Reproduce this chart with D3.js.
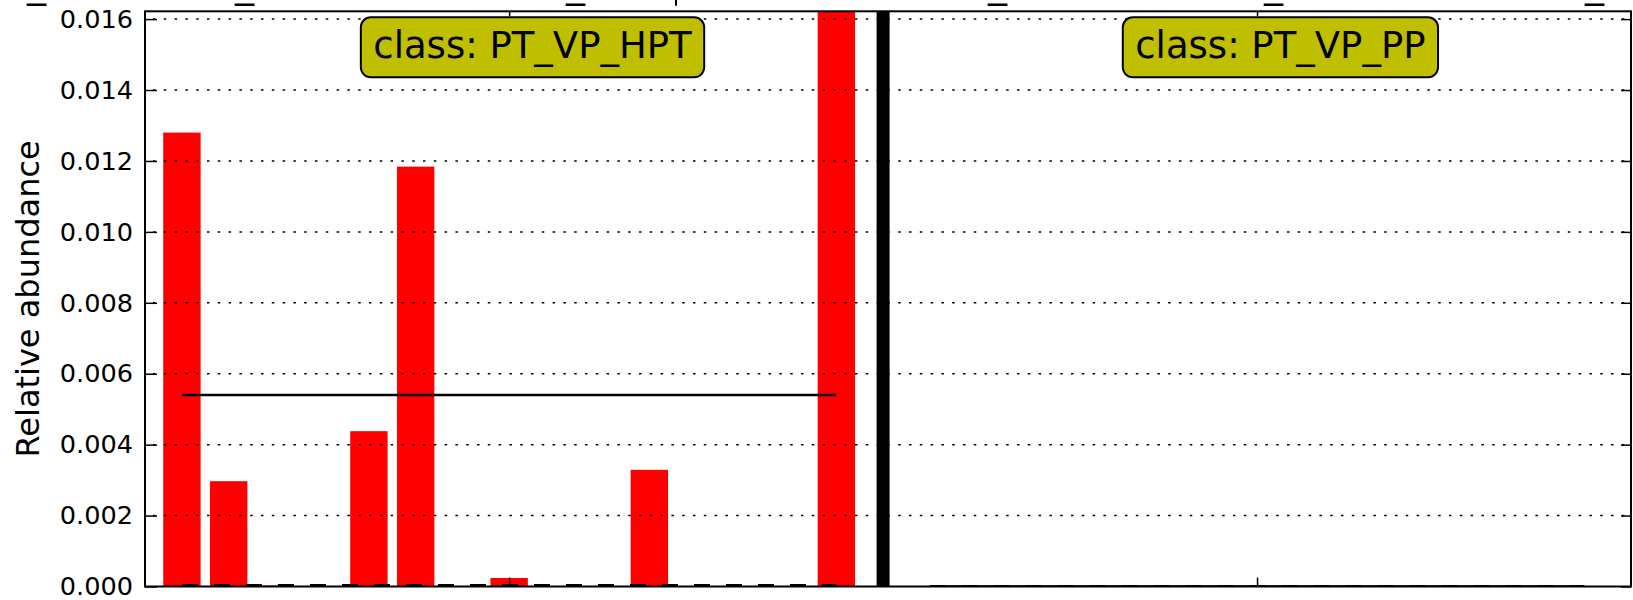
<!DOCTYPE html>
<html>
<head>
<meta charset="utf-8">
<script src="https://cdn.jsdelivr.net/npm/d3@7"></script>
<style>
  body { margin: 0; background: #fff; }
  svg { display: block; font-family: "DejaVu Sans", sans-serif; }
</style>
</head>
<body>
<div id="main-chart"></div>
<script>
// values
const classNames = ["PT_VP_HPT", "PT_VP_PP"];
const hptValues = [0.0128, 0.00297, 0.00003, 0, 0.00438, 0.01184, 0, 0.00024, 0, 0, 0.00329, 0, 0, 0, 0.0454];
const ppValues = [0, 0, 0, 0, 0, 0, 0, 0, 0, 0, 0, 0, 0, 0, 0];
const yTicks = [0, 0.002, 0.004, 0.006, 0.008, 0.010, 0.012, 0.014, 0.016];

// bits of a cut-off title at the very top
const fragmentX = [27, 235, 566, 988, 1264, 1585];

const width = 1633, height = 600;
const pLeft = 145, pRight = 1631, pTop = 11.3, pBottom = 586.5;

const svg = d3.select("#main-chart")
    .append("svg")
    .attr("width", width)
    .attr("height", height);

const x = d3.scaleLinear().domain([-0.79, 31]).range([pLeft, pRight]);
const y = d3.scaleLinear().domain([0, 0.01622]).range([pBottom, pTop]);

const groups = [
    { name: classNames[0], values: hptValues, start: 0 },
    { name: classNames[1], values: ppValues, start: 16 }
];
const divider = 15;

svg.append("defs").append("clipPath").attr("id", "plot-clip")
    .append("rect")
    .attr("x", pLeft).attr("y", pTop)
    .attr("width", pRight - pLeft).attr("height", pBottom - pTop);

const plot = svg.append("g").attr("clip-path", "url(#plot-clip)");

// bars
groups.forEach(g => {
    plot.selectAll(null)
        .data(g.values)
        .enter()
        .append("rect")
        .attr("x", (d, i) => x(g.start + i - 0.4))
        .attr("width", x(0.8) - x(0))
        .attr("y", d => y(d))
        .attr("height", d => y(0) - y(d))
        .attr("fill", "#ff0000");
});

// dotted grid (drawn over the bars)
plot.selectAll(".grid")
    .data(yTicks.slice(1))
    .enter()
    .append("line")
    .attr("class", "grid")
    .attr("x1", pLeft).attr("x2", pRight)
    .attr("y1", d => y(d)).attr("y2", d => y(d))
    .attr("stroke", "#000")
    .attr("stroke-width", 1.5)
    .attr("stroke-dasharray", "2.5,8.3")
    .attr("stroke-dashoffset", -8);

// mean (solid) and median (dashed) per class
groups.forEach(g => {
    const x0 = x(g.start), x1 = x(g.start + g.values.length - 1);
    const mean = d3.mean(g.values), median = d3.median(g.values);
    plot.append("line")
        .attr("x1", x0).attr("x2", x1)
        .attr("y1", y(mean)).attr("y2", y(mean))
        .attr("stroke", "#000").attr("stroke-width", 2.5);
    plot.append("line")
        .attr("x1", x0).attr("x2", x1)
        .attr("y1", y(median)).attr("y2", y(median))
        .attr("stroke", "#000").attr("stroke-width", 3)
        .attr("stroke-dasharray", "16,16");
});

// class divider
plot.append("line")
    .attr("x1", x(divider)).attr("x2", x(divider))
    .attr("y1", pTop).attr("y2", pBottom)
    .attr("stroke", "#000")
    .attr("stroke-width", 13);

// axes, ticks pointing inward
const yAxis = svg.append("g")
    .attr("transform", `translate(${pLeft},0)`)
    .call(d3.axisLeft(y).tickValues(yTicks).tickFormat(d3.format(".3f"))
        .tickSizeInner(-12).tickSizeOuter(0).tickPadding(12));
yAxis.select(".domain").remove();
yAxis.selectAll("text")
    .attr("font-size", 25.6)
    .attr("font-family", "DejaVu Sans")
    .attr("fill", "#000");

const yAxisR = svg.append("g")
    .attr("transform", `translate(${pRight},0)`)
    .call(d3.axisRight(y).tickValues(yTicks).tickFormat("")
        .tickSizeInner(-10).tickSizeOuter(0));
yAxisR.select(".domain").remove();

const classTicks = [7, 23];
const xAxisB = svg.append("g")
    .attr("transform", `translate(0,${pBottom})`)
    .call(d3.axisBottom(x).tickValues(classTicks).tickFormat("")
        .tickSizeInner(-9).tickSizeOuter(0));
xAxisB.select(".domain").remove();
const xAxisT = svg.append("g")
    .attr("transform", `translate(0,${pTop})`)
    .call(d3.axisTop(x).tickValues(classTicks).tickFormat("")
        .tickSizeInner(-5).tickSizeOuter(0));
xAxisT.select(".domain").remove();

svg.selectAll(".tick line").attr("stroke", "#000").attr("stroke-width", 1.5);

// frame
svg.append("rect")
    .attr("x", pLeft).attr("y", pTop)
    .attr("width", pRight - pLeft).attr("height", pBottom - pTop)
    .attr("fill", "none")
    .attr("stroke", "#000")
    .attr("stroke-width", 2);

// y label
svg.append("text")
    .attr("transform", `translate(39,${(pTop + pBottom) / 2}) rotate(-90)`)
    .attr("text-anchor", "middle")
    .attr("font-size", 32)
    .attr("fill", "#000")
    .text("Relative abundance");

// class labels in boxes
const boxCenters = [7.5, 23.5];
groups.forEach((g, i) => {
    const lbl = svg.append("g");
    const t = lbl.append("text")
        .attr("x", x(boxCenters[i]))
        .attr("y", 57.5)
        .attr("text-anchor", "middle")
        .attr("font-size", 37)
        .attr("fill", "#000")
        .text("class: " + g.name);
    const w = t.node().getComputedTextLength();
    lbl.insert("rect", "text")
        .attr("x", x(boxCenters[i]) - w / 2 - 12.5)
        .attr("y", 17.3)
        .attr("width", w + 25)
        .attr("height", 60)
        .attr("rx", 10)
        .attr("fill", "#bfbf00")
        .attr("stroke", "#000")
        .attr("stroke-width", 2);
});

// cut-off title remnants
svg.selectAll(".frag")
    .data(fragmentX)
    .enter()
    .append("text")
    .attr("class", "frag")
    .attr("x", d => d)
    .attr("y", -3)
    .attr("font-size", 38)
    .attr("fill", "#000")
    .text("_");
svg.append("line")
    .attr("x1", 676).attr("x2", 676)
    .attr("y1", 0).attr("y2", 5.7)
    .attr("stroke", "#000").attr("stroke-width", 2);
</script>
</body>
</html>
